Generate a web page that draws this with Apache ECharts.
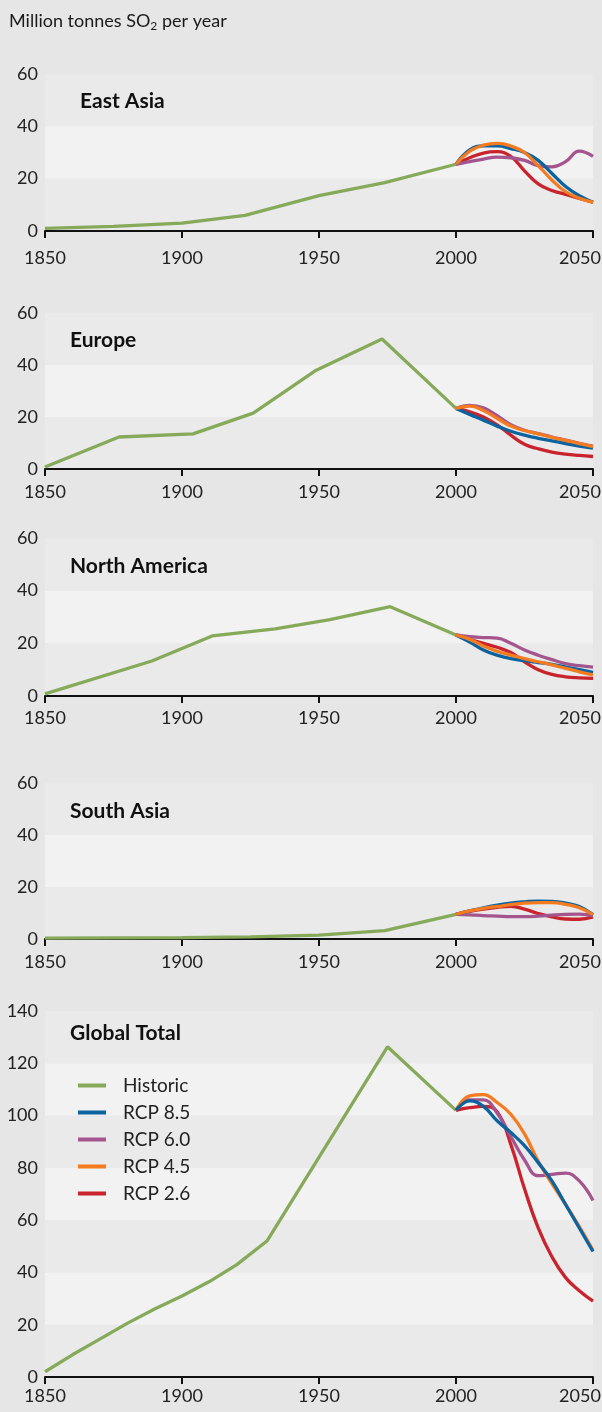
<!DOCTYPE html>
<html>
<head>
<meta charset="utf-8">
<script src="https://cdn.jsdelivr.net/npm/echarts@6/dist/echarts.min.js"></script>
<style>
html,body{margin:0;padding:0;background:#e6e6e6;overflow:hidden;}
#c{width:602px;height:1412px;}
</style>
</head>
<body>
<div id="c"></div>
<script>
// ---- data ----
const rcpYears = [2000, 2005, 2010, 2015, 2020, 2025, 2030, 2035, 2040, 2045, 2050];
const xTicks = [1850, 1900, 1950, 2000, 2050];

const eastAsiaHistYears = [1850, 1875, 1900, 1923, 1950, 1974, 2000];
const eastAsiaHist = [1, 1.8, 3, 6, 13.5, 18.5, 25.5];
const eastAsiaRcp85 = [25.5, 31, 32.5, 32.5, 31.5, 30, 27, 22, 17, 13.5, 11];
const eastAsiaRcp60 = [25.5, 26.5, 27.5, 28.2, 28, 27, 25, 24.5, 26.5, 30.5, 28.5];
const eastAsiaRcp45 = [25.5, 30.5, 32.8, 33.5, 32.5, 30, 25, 19.5, 15, 12.5, 11];
const eastAsiaRcp26 = [25.5, 28, 29.8, 30.3, 28.5, 23, 18, 15.5, 14, 12.5, 11];

const europeHistYears = [1850, 1877, 1904, 1926, 1949, 1973, 2000];
const europeHist = [0.8, 12.3, 13.5, 21.5, 38, 50, 23.3];
const europeRcp85 = [23.3, 21, 18.8, 16.5, 14.5, 13, 11.8, 10.8, 9.8, 8.8, 8];
const europeRcp60 = [23.3, 24.5, 23.5, 20.5, 17, 14.9, 13.6, 12.3, 11.1, 9.9, 8.8];
const europeRcp45 = [23.3, 24.2, 22.5, 19.5, 16.5, 14.8, 13.5, 12.2, 11, 9.8, 8.6];
const europeRcp26 = [23.3, 22, 20, 17, 13, 9.5, 7.8, 6.5, 5.7, 5.2, 4.8];

const northAmHistYears = [1850, 1889, 1911, 1934, 1954, 1976, 2000];
const northAmHist = [0.8, 13.3, 22.8, 25.5, 29, 33.9, 23.2];
const northAmRcp85 = [23.2, 20.5, 17.5, 15.5, 14.2, 13.4, 12.7, 12, 11, 10, 9];
const northAmRcp60 = [23.2, 22.5, 22.2, 22, 20, 17.5, 15.5, 13.8, 12.3, 11.5, 11];
const northAmRcp45 = [23.2, 21.5, 19, 17, 15.5, 14.2, 13, 11.8, 10.5, 9.2, 8];
const northAmRcp26 = [23.2, 21.5, 20, 18.5, 16.5, 13, 10, 8.2, 7.3, 6.9, 6.7];

const southAsiaHistYears = [1850, 1900, 1925, 1950, 1974, 2000];
const southAsiaHist = [0.3, 0.5, 0.8, 1.5, 3.2, 9.5];
const southAsiaRcp85 = [9.5, 10.8, 12, 13, 13.8, 14.3, 14.6, 14.5, 13.8, 12.5, 9.4];
const southAsiaRcp60 = [9.5, 9.3, 9.0, 8.8, 8.6, 8.6, 8.8, 9.2, 9.5, 9.6, 9];
const southAsiaRcp45 = [9.5, 10.8, 11.8, 12.5, 13.2, 13.8, 14, 14, 13.3, 12, 9.4];
const southAsiaRcp26 = [9.5, 10.6, 11.5, 12.2, 12.6, 11.5, 9.8, 8.5, 7.7, 7.6, 8.5];

const globalHistYears = [1850, 1860, 1870, 1880, 1890, 1900, 1910, 1920, 1931, 1975, 2000];
const globalHist = [2, 8.5, 14.5, 20.5, 26, 31, 36.5, 43, 52, 126.3, 102];
const globalRcp85 = [102, 105.6, 103.5, 98, 93.5, 88.5, 82, 75, 66, 57, 48];
const globalRcp60 = [102, 106, 106, 101, 92, 83, 77, 77.5, 78, 75, 67.5];
const globalRcp45 = [102, 107.5, 108, 105, 100.5, 93, 82.5, 74, 66, 57.5, 48.5];
const globalRcp26 = [102, 103, 103.5, 101.5, 89, 72, 57, 46, 38, 33, 29];

const panelNames = ['East Asia', 'Europe', 'North America', 'South Asia', 'Global Total'];
const seriesNames = ['Historic', 'RCP 8.5', 'RCP 6.0', 'RCP 4.5', 'RCP 2.6'];

// ---- styles ----
const colors = {
  'Historic': '#86a95a',
  'RCP 8.5': '#0b63a0',
  'RCP 6.0': '#a4558e',
  'RCP 4.5': '#f47b20',
  'RCP 2.6': '#c9232d'
};
const FONT = 'Lato';
const panels = [
  {top: 74, height: 157, max: 60, hy: eastAsiaHistYears, h: eastAsiaHist, r85: eastAsiaRcp85, r60: eastAsiaRcp60, r45: eastAsiaRcp45, r26: eastAsiaRcp26, titleLeft: 80, titleTop: 91, margin: 18},
  {top: 313, height: 156, max: 60, hy: europeHistYears, h: europeHist, r85: europeRcp85, r60: europeRcp60, r45: europeRcp45, r26: europeRcp26, titleLeft: 70, titleTop: 330, margin: 14},
  {top: 538, height: 158, max: 60, hy: northAmHistYears, h: northAmHist, r85: northAmRcp85, r60: northAmRcp60, r45: northAmRcp45, r26: northAmRcp26, titleLeft: 70, titleTop: 556, margin: 13},
  {top: 783, height: 156, max: 60, hy: southAsiaHistYears, h: southAsiaHist, r85: southAsiaRcp85, r60: southAsiaRcp60, r45: southAsiaRcp45, r26: southAsiaRcp26, titleLeft: 70, titleTop: 801, margin: 14},
  {top: 1011, height: 366, max: 140, hy: globalHistYears, h: globalHist, r85: globalRcp85, r60: globalRcp60, r45: globalRcp45, r26: globalRcp26, titleLeft: 70, titleTop: 1023, margin: 10}
];

const grid = [], xAxis = [], yAxis = [], series = [];
const titles = [{
  left: 9, top: 11, padding: 0,
  text: '{a|Million tonnes SO}{b|2}{a| per year}',
  textStyle: {
    fontWeight: 'normal',
    rich: {
      a: {fontFamily: FONT, fontSize: 18, fontWeight: 'normal', color: '#1a1a1a'},
      b: {fontFamily: FONT, fontSize: 12, fontWeight: 'normal', color: '#1a1a1a', padding: [9, 0, 0, 0]}
    }
  }
}];

const pair = (xs, ys) => xs.map((x, i) => [x, ys[i]]);
const lastTick = xTicks[xTicks.length - 1];

panels.forEach((p, i) => {
  grid.push({left: 45, width: 548, top: p.top, height: p.height, containLabel: false, outerBoundsMode: 'none'});
  xAxis.push({
    type: 'value', gridIndex: i, min: 1850, max: 2050, interval: 50,
    axisLine: {show: true, onZero: false, lineStyle: {color: '#111', width: 2}},
    axisTick: {show: true, length: 7, lineStyle: {color: '#111', width: 2}},
    splitLine: {show: false},
    axisLabel: {fontFamily: FONT, fontSize: 18, color: '#222', margin: p.margin, showMinLabel: true, showMaxLabel: true,
      formatter: v => v === lastTick ? '{m|' + v + '}' : String(v),
      rich: {m: {fontFamily: FONT, fontSize: 18, color: '#222', padding: [0, 26, 0, 0]}}}
  });
  yAxis.push({
    type: 'value', gridIndex: i, min: 0, max: p.max, interval: 20,
    axisLine: {show: false}, axisTick: {show: false},
    splitLine: {show: false},
    splitArea: {show: true, areaStyle: {color: ['#eaeaea', '#f2f2f2']}},
    axisLabel: {fontFamily: FONT, fontSize: 18, color: '#222', margin: 7}
  });
  titles.push({
    text: panelNames[i], left: p.titleLeft, top: p.titleTop, padding: 0,
    textStyle: {fontFamily: FONT, fontWeight: 'bold', fontSize: 21, color: '#111'}
  });
  const isGlobal = i === 4;
  const proj = [
    ['RCP 2.6', p.r26, 2],
    ['RCP 6.0', p.r60, 3],
    ['RCP 8.5', p.r85, isGlobal ? 6 : 4],
    ['RCP 4.5', p.r45, 5]
  ];
  series.push({
    name: 'Historic', type: 'line', xAxisIndex: i, yAxisIndex: i,
    data: pair(p.hy, p.h), showSymbol: false, symbol: 'none', z: 2,
    lineStyle: {color: colors['Historic'], width: 3.3}, itemStyle: {color: colors['Historic']}
  });
  proj.forEach(([name, vals, z]) => {
    series.push({
      name, type: 'line', xAxisIndex: i, yAxisIndex: i,
      data: pair(rcpYears, vals), smooth: 0.45, showSymbol: false, symbol: 'none', z,
      lineStyle: {color: colors[name], width: 3.3}, itemStyle: {color: colors[name]}
    });
  });
});

const chart = echarts.init(document.getElementById('c'), null, {renderer: 'canvas'});
chart.setOption({
  backgroundColor: '#e6e6e6',
  animation: false,
  title: titles,
  grid, xAxis, yAxis, series,
  legend: {
    data: seriesNames.map(n => ({name: n, icon: 'rect', itemStyle: {color: colors[n]}})),
    orient: 'vertical', left: 78, top: 1076, padding: 0,
    itemWidth: 28, itemHeight: 4, itemGap: 8,
    textStyle: {fontFamily: FONT, fontSize: 19, color: '#222', padding: [0, 0, 0, 12]},
    selectedMode: false
  }
});
</script>
</body>
</html>
